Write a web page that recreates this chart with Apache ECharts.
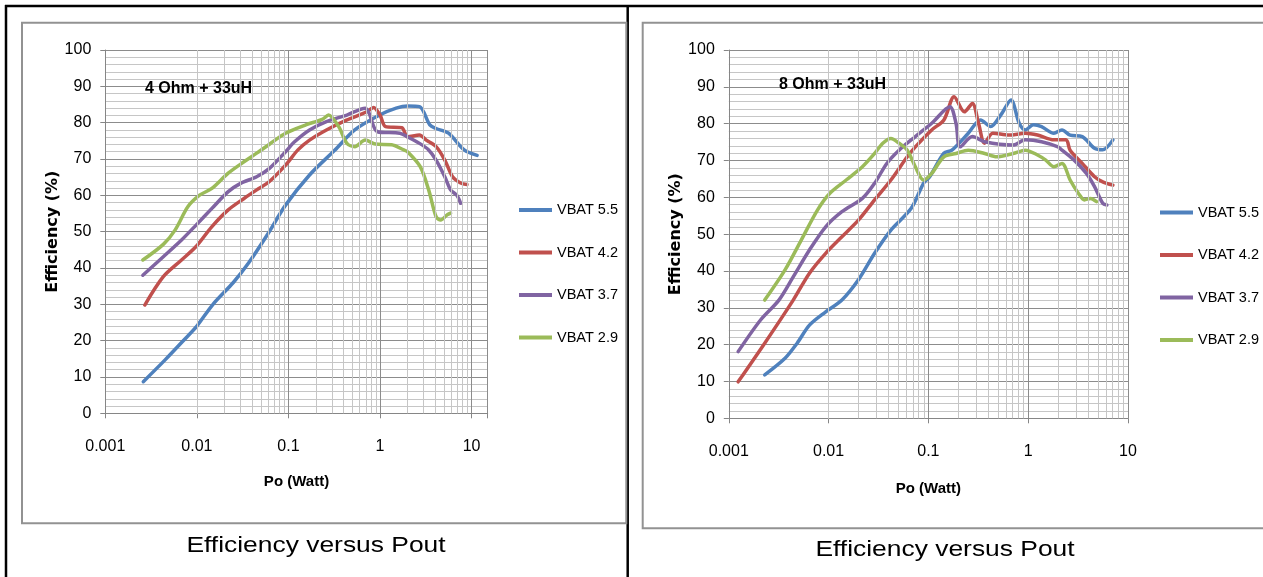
<!DOCTYPE html>
<html>
<head>
<meta charset="utf-8">
<script src="https://cdn.jsdelivr.net/npm/echarts@6/dist/echarts.min.js"></script>
<style>
  html, body { margin: 0; padding: 0; background: #fff; }
  #chart { width: 1263px; height: 577px; }
</style>
</head>
<body>
<div id="chart"></div>
<script>
// Series names and colours (one per battery voltage)
const seriesNames = ['VBAT 5.5', 'VBAT 4.2', 'VBAT 3.7', 'VBAT 2.9'];
const seriesColors = ['#4F81BD', '#C0504D', '#8064A2', '#9BBB59'];

// Axis tick labels
const xTickLabels = ['0.001', '0.01', '0.1', '1', '10'];
const minorSteps = [2, 3, 4, 5, 6, 7, 8, 9];
const minorDecades = [0.001, 0.01, 0.1, 1];

// ---- 4 Ohm + 33uH : output power (W) and efficiency (%) ----
const po4_55  = [0.0026, 0.0045, 0.0075, 0.01, 0.015, 0.025, 0.037, 0.06, 0.093, 0.17, 0.32, 0.53, 0.99, 1.5, 2.0, 2.7, 3.5, 4.1, 5.6, 8.3, 11.5];
const eff4_55 = [8.7, 14.7, 20.6, 24, 30, 36, 41.5, 49.5, 57.3, 65.6, 72.4, 78, 82.1, 84, 84.6, 84.4, 79.4, 78.4, 77.1, 72.5, 71];

const po4_42  = [0.0027, 0.0043, 0.0068, 0.0098, 0.0146, 0.022, 0.033, 0.045, 0.062, 0.093, 0.127, 0.17, 0.26, 0.43, 0.72, 0.85, 1.0, 1.15, 1.73, 2.0, 2.7, 3.2, 4.1, 5.1, 6.2, 7.6, 8.9];
const eff4_42 = [29.8, 37.6, 42.2, 45.9, 51.4, 56, 59.2, 61.5, 63.8, 68.3, 72.5, 75.2, 78, 80.7, 83, 84.2, 82.1, 78.9, 78.6, 76.1, 76.6, 75.2, 73.4, 69.7, 65.1, 63.4, 63];

const po4_37  = [0.00257, 0.0043, 0.0068, 0.0098, 0.0146, 0.022, 0.03, 0.045, 0.062, 0.093, 0.115, 0.17, 0.26, 0.435, 0.69, 0.76, 0.94, 1.65, 2.0, 2.7, 3.4, 4.1, 5.1, 5.9, 6.9, 7.6];
const eff4_37 = [38, 43.1, 47.7, 51.8, 56.4, 61, 63.3, 65.1, 67.4, 72, 74.6, 78, 80.3, 82.1, 84, 82.6, 77.5, 77.1, 76.1, 74.3, 72.5, 69.7, 65.1, 61.5, 60, 57.8];

const po4_29  = [0.00257, 0.0043, 0.0058, 0.008, 0.0108, 0.0146, 0.022, 0.033, 0.045, 0.063, 0.093, 0.155, 0.234, 0.274, 0.354, 0.435, 0.53, 0.69, 0.89, 1.34, 1.82, 2.0, 2.75, 3.4, 4.1, 4.6, 5.4, 5.9];
const eff4_29 = [42.2, 46.5, 50.5, 56.9, 60.1, 61.9, 66.1, 69.3, 71.6, 74.2, 77.1, 79.4, 80.9, 82.1, 78.9, 74.3, 73.4, 75.2, 74.1, 73.9, 72.5, 72, 67.9, 61.5, 54.1, 53.2, 54.6, 55.1];

// ---- 8 Ohm + 33uH : output power (W) and efficiency (%) ----
const po8_55  = [0.00229, 0.00366, 0.00484, 0.00643, 0.00935, 0.0136, 0.0199, 0.0289, 0.0421, 0.0673, 0.0893, 0.103, 0.143, 0.172, 0.251, 0.333, 0.421, 0.532, 0.673, 0.813, 0.935, 1.13, 1.36, 1.81, 2.18, 2.63, 3.48, 4.62, 5.58, 7.06];
const eff8_55 = [11.8, 16.3, 20.4, 25.3, 28.9, 32.1, 37.6, 44.8, 51.1, 57, 63.8, 65.6, 72, 72.8, 77.4, 81, 79.2, 82.4, 86.4, 80.1, 78.3, 79.7, 79.2, 77.4, 78.3, 76.9, 76.5, 73.3, 72.9, 75.6];

const po8_42  = [0.00124, 0.00229, 0.00442, 0.00643, 0.00935, 0.0136, 0.0199, 0.0289, 0.0421, 0.0614, 0.074, 0.108, 0.143, 0.181, 0.229, 0.276, 0.318, 0.366, 0.442, 0.643, 0.935, 1.24, 1.81, 2.39, 2.63, 3.48, 4.62, 5.58, 7.06];
const eff8_42 = [9.9, 20.4, 32.1, 39.4, 44.8, 49.3, 53.8, 59.3, 64.7, 71, 73.7, 78.3, 81, 87.3, 83.2, 85.5, 80.1, 74.7, 77.4, 76.9, 77.4, 76.9, 75.6, 75.6, 72.8, 69.2, 65.6, 64.2, 63.3];

const po8_37  = [0.00124, 0.00208, 0.00318, 0.00442, 0.00643, 0.00935, 0.0136, 0.0218, 0.0289, 0.0383, 0.0508, 0.074, 0.108, 0.164, 0.189, 0.208, 0.276, 0.366, 0.706, 0.935, 1.36, 1.99, 2.18, 2.89, 3.83, 4.62, 5.58, 6.14];
const eff8_37 = [18.1, 26.7, 32.1, 38.4, 45.7, 52, 56.1, 59.7, 63.8, 69.2, 72.8, 76.5, 80.1, 84.6, 80.1, 73.7, 76.5, 75.1, 74.2, 75.6, 75.1, 73.7, 72.8, 70.1, 66.5, 62.9, 58.4, 57.9];

const po8_29  = [0.00229, 0.00366, 0.00532, 0.00776, 0.0103, 0.015, 0.0218, 0.0289, 0.0349, 0.0421, 0.0508, 0.0614, 0.074, 0.0893, 0.108, 0.143, 0.189, 0.251, 0.366, 0.484, 0.706, 0.935, 1.24, 1.5, 1.81, 2.18, 2.63, 3.18, 3.66, 4.21, 4.84];
const eff8_29 = [32.1, 40.3, 48.4, 56.6, 61.1, 64.7, 68.3, 71.9, 74.7, 76, 74.7, 72.8, 68.3, 64.7, 66.5, 71, 71.9, 72.8, 71.9, 71, 71.9, 72.8, 71.5, 70.1, 68.3, 69.2, 64.7, 61.1, 59.3, 59.7, 58.8];

const chartTitles = ['4 Ohm + 33uH', '8 Ohm + 33uH'];
const captionText = 'Efficiency versus Pout';

// ---- helpers ----
const SANS = '"Liberation Sans Narrow", "Arial Narrow", "Liberation Sans", Arial, sans-serif';
const zip = (xs, ys) => xs.map((x, i) => [x, ys[i]]);
const minorGrid = [];
minorDecades.forEach(d => minorSteps.forEach(s => minorGrid.push(+(d * s).toPrecision(3))));

function xAxisFor(gridIndex, maxVal, nameGap) {
  return {
    type: 'log', logBase: 10, gridIndex, min: 0.001, max: maxVal,
    axisLine: { show: true, lineStyle: { color: '#868686', width: 1 } },
    axisTick: { show: true, length: 5, lineStyle: { color: '#868686' } },
    axisLabel: {
      margin: 25, color: '#000', fontFamily: SANS, fontSize: 16,
      formatter: v => {
        const l = Math.log10(v), r = Math.round(l);
        return Math.abs(l - r) < 1e-6 ? xTickLabels[r + 3] : '';
      }
    },
    splitLine: { show: true, lineStyle: { color: '#8c8c8c', width: 1 } },
    name: 'Po (Watt)', nameLocation: 'middle', nameGap,
    nameTextStyle: { fontFamily: SANS, fontWeight: 'bold', fontSize: 15, color: '#000' }
  };
}

function yAxisFor(gridIndex) {
  return {
    type: 'value', gridIndex, min: 0, max: 100, interval: 10,
    axisLine: { show: true, lineStyle: { color: '#868686', width: 1 } },
    axisTick: { show: true, length: 5, lineStyle: { color: '#868686' } },
    minorTick: { show: false, splitNumber: 5 },
    axisLabel: { margin: 14, color: '#000', fontFamily: SANS, fontSize: 16 },
    splitLine: { show: true, lineStyle: { color: '#8c8c8c', width: 1 } },
    minorSplitLine: { show: true, lineStyle: { color: '#c6c6c6', width: 1 } },
    name: 'Efficiency (%)', nameLocation: 'middle', nameGap: 40, nameRotate: 90,
    nameTextStyle: { fontFamily: '"DejaVu Sans", Verdana, sans-serif', fontWeight: 'bold', fontSize: 16, color: '#000' }
  };
}

function lineSeries(name, idx, data, gi) {
  return {
    name, type: 'line', xAxisIndex: gi, yAxisIndex: gi, data,
    showSymbol: false, symbol: 'none', smooth: 0.3, z: 3,
    color: seriesColors[idx],
    lineStyle: { width: 3.5, color: seriesColors[idx], cap: 'round', join: 'round' },
    emphasis: { disabled: true }
  };
}

function minorGridSeries(gi) {
  return {
    type: 'line', xAxisIndex: gi, yAxisIndex: gi, data: [], z: 1, silent: true,
    markLine: {
      silent: true, symbol: ['none', 'none'], label: { show: false },
      lineStyle: { color: '#c6c6c6', width: 1, type: 'solid' },
      emphasis: { disabled: true },
      data: minorGrid.map(v => ({ xAxis: v }))
    }
  };
}

function legendFor(left, top) {
  return {
    data: seriesNames, orient: 'vertical', left, top, padding: 0,
    itemWidth: 33, itemHeight: 4, itemGap: 22.5, icon: 'rect', selectedMode: false,
    textStyle: { fontFamily: SANS, fontSize: 14.5, lineHeight: 20, color: '#000' }
  };
}

const set4 = [zip(po4_55, eff4_55), zip(po4_42, eff4_42), zip(po4_37, eff4_37), zip(po4_29, eff4_29)];
const set8 = [zip(po8_55, eff8_55), zip(po8_42, eff8_42), zip(po8_37, eff8_37), zip(po8_29, eff8_29)];

const series = [minorGridSeries(0), minorGridSeries(1)];
set4.forEach((d, i) => series.push(lineSeries(seriesNames[i], i, d, 0)));
set8.forEach((d, i) => series.push(lineSeries(seriesNames[i], i, d, 1)));

const option = {
  backgroundColor: '#fff',
  animation: false,
  grid: [
    { left: 105.3, top: 50, width: 382.4, height: 363.3, containLabel: false },
    { left: 728.8, top: 50, width: 399.2, height: 368.3, containLabel: false }
  ],
  xAxis: [xAxisFor(0, 15, 61), xAxisFor(1, 10, 63)],
  yAxis: [yAxisFor(0), yAxisFor(1)],
  legend: [legendFor(519, 200), legendFor(1160, 202.5)],
  series,
  graphic: [
    // page table rules
    { type: 'line', shape: { x1: 5, y1: 6, x2: 1263, y2: 6 }, style: { stroke: '#000', lineWidth: 2.5 } },
    { type: 'line', shape: { x1: 6, y1: 5, x2: 6, y2: 577 }, style: { stroke: '#000', lineWidth: 2.5 } },
    { type: 'line', shape: { x1: 627.7, y1: 5, x2: 627.7, y2: 577 }, style: { stroke: '#000', lineWidth: 2.5 } },
    // chart area frames
    { type: 'rect', shape: { x: 22, y: 22.7, width: 604.3, height: 500.6 }, style: { fill: 'none', stroke: '#929292', lineWidth: 2 } },
    { type: 'rect', shape: { x: 642.7, y: 22.7, width: 640, height: 505.6 }, style: { fill: 'none', stroke: '#929292', lineWidth: 2 } },
    // in-plot load labels
    { type: 'text', x: 145, y: 89, style: { text: chartTitles[0], fontFamily: SANS, fontWeight: 'bold', fontSize: 16, fill: '#000', textAlign: 'left', textVerticalAlign: 'middle' }, z: 10 },
    { type: 'text', x: 779, y: 85, style: { text: chartTitles[1], fontFamily: SANS, fontWeight: 'bold', fontSize: 16, fill: '#000', textAlign: 'left', textVerticalAlign: 'middle' }, z: 10 },
    // captions
    { type: 'text', x: 316, y: 546, scaleX: 1.2, style: { text: captionText, fontFamily: '"Liberation Sans", Arial, sans-serif', fontSize: 22, fill: '#000', textAlign: 'center', textVerticalAlign: 'middle' } },
    { type: 'text', x: 945, y: 550, scaleX: 1.2, style: { text: captionText, fontFamily: '"Liberation Sans", Arial, sans-serif', fontSize: 22, fill: '#000', textAlign: 'center', textVerticalAlign: 'middle' } }
  ]
};

const chart = echarts.init(document.getElementById('chart'), null, { renderer: 'canvas' });
chart.setOption(option);
</script>
</body>
</html>
